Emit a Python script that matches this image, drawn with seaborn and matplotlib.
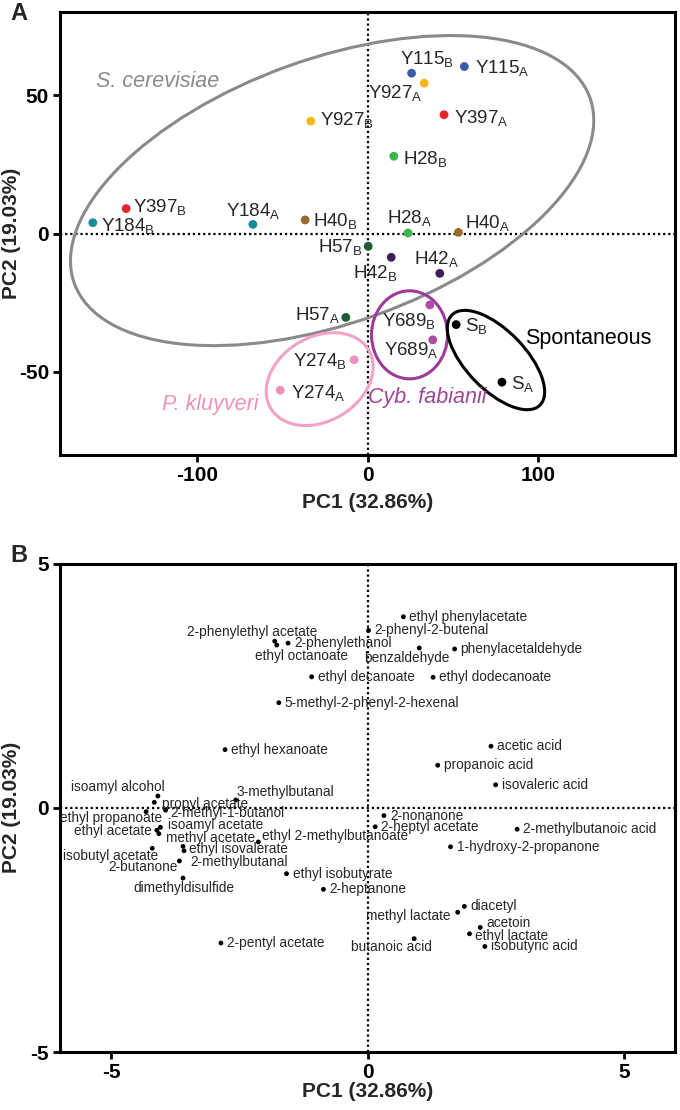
import numpy as np
import pandas as pd
import seaborn as sns
import matplotlib.pyplot as plt
from matplotlib.patches import Ellipse
from matplotlib.transforms import Affine2D

sns.set_style('white')
plt.rcParams['font.family'] = ['Liberation Sans', 'DejaVu Sans']
plt.rcParams['mathtext.fontset'] = 'custom'
plt.rcParams['mathtext.rm'] = 'Liberation Sans'
plt.rcParams['axes.unicode_minus'] = False

# ---- Panel A data: sample scores ----
strains = ['Y115', 'Y115', 'Y927', 'Y397', 'Y927', 'H28', 'Y397', 'Y184', 'Y184', 'H40', 'H28',
           'H40', 'H57', 'H42', 'H42', 'H57', 'Y689', 'Y689', 'S', 'S', 'Y274', 'Y274']
replicates = ['B', 'A', 'A', 'A', 'B', 'B', 'B', 'B', 'A', 'B', 'A',
              'A', 'B', 'B', 'A', 'A', 'B', 'A', 'B', 'A', 'B', 'A']
pc1_scores = [25.8, 56.7, 33.2, 44.8, -33.2, 15.4, -141.3, -160.8, -67.1, -36.5, 23.7,
              53.2, 0.4, 13.9, 42.3, -12.7, 36.5, 38.2, 51.9, 78.7, -7.8, -51.1]
pc2_scores = [57.9, 60.3, 54.3, 42.9, 40.6, 27.9, 9.0, 3.9, 3.3, 4.9, 0.2,
              0.4, -4.6, -8.6, -14.4, -30.3, -25.8, -38.4, -32.9, -53.7, -45.6, -56.6]

strain_colors = {'Y115': '#3b5ba9', 'Y927': '#f7b719', 'Y397': '#e3262b', 'H28': '#3bb54a',
                 'Y184': '#178a9c', 'H40': '#9c6a2c', 'H57': '#1d5c34', 'H42': '#3f1d5a',
                 'Y689': '#b04ba8', 'Y274': '#ef8fbb', 'S': '#000000'}

# ---- Panel B data: compound loadings ----
compounds = ['ethyl phenylacetate', '2-phenyl-2-butenal', '2-phenylethyl acetate', 'ethyl octanoate',
             '2-phenylethanol', 'benzaldehyde', 'phenylacetaldehyde', 'ethyl decanoate',
             'ethyl dodecanoate', '5-methyl-2-phenyl-2-hexenal', 'ethyl hexanoate', 'acetic acid',
             'propanoic acid', 'isovaleric acid', 'isoamyl alcohol', 'propyl acetate', '3-methylbutanal',
             'ethyl propanoate', '2-methyl-1-butanol', 'isoamyl acetate', 'ethyl acetate',
             'methyl acetate', 'ethyl 2-methylbutanoate', 'ethyl isovalerate', '2-methylbutanal',
             '2-butanone', 'isobutyl acetate', 'dimethyldisulfide', 'ethyl isobutyrate', '2-heptanone',
             '2-pentyl acetate', '2-nonanone', '2-heptyl acetate', '2-methylbutanoic acid',
             '1-hydroxy-2-propanone', 'diacetyl', 'methyl lactate', 'acetoin', 'ethyl lactate',
             'isobutyric acid', 'butanoic acid']
pc1_loadings = [0.70, 0.02, -1.81, -1.77, -1.55, 1.01, 1.70, -1.09, 1.28, -1.73, -2.78, 2.41,
                1.37, 2.50, -4.09, -4.16, -2.57, -4.32, -3.94, -4.04, -4.11, -4.07, -2.13, -3.60,
                -3.58, -3.67, -4.20, -3.60, -1.58, -0.86, -2.86, 0.32, 0.15, 2.92, 1.62, 1.89,
                1.76, 2.20, 1.99, 2.29, 0.91]
pc2_loadings = [3.91, 3.63, 3.41, 3.33, 3.37, 3.27, 3.25, 2.68, 2.67, 2.15, 1.19, 1.26,
                0.87, 0.47, 0.24, 0.11, 0.16, -0.08, -0.05, -0.40, -0.46, -0.53, -0.70, -0.79,
                -0.88, -1.09, -0.83, -1.44, -1.35, -1.67, -2.77, -0.16, -0.39, -0.44, -0.80, -2.02,
                -2.14, -2.45, -2.58, -2.84, -2.68]

df_a = pd.DataFrame({'strain': strains, 'rep': replicates, 'PC1': pc1_scores, 'PC2': pc2_scores})
df_b = pd.DataFrame({'compound': compounds, 'PC1': pc1_loadings, 'PC2': pc2_loadings})

# label placement for panel A: (dx px, dy px, ha)
label_pos_a = {
    ('Y115', 'B'): (15, 15, 'center'), ('Y115', 'A'): (11, 0, 'left'),
    ('Y927', 'A'): (-2, -9, 'right'), ('Y397', 'A'): (10, -2, 'left'),
    ('Y927', 'B'): (9, 2, 'left'), ('H28', 'B'): (9, -1, 'left'),
    ('Y397', 'B'): (7, 3, 'left'), ('Y184', 'B'): (8, -2, 'left'),
    ('Y184', 'A'): (0, 15, 'center'), ('H40', 'B'): (8, 0, 'left'),
    ('H28', 'A'): (2, 16, 'center'), ('H40', 'A'): (7, 11, 'left'),
    ('H57', 'B'): (-6, 1, 'right'), ('H42', 'B'): (-16, -14, 'center'),
    ('H42', 'A'): (-3, 16, 'center'), ('H57', 'A'): (-6, 4, 'right'),
    ('Y689', 'B'): (6, -15, 'right'), ('Y689', 'A'): (6, -9, 'right'),
    ('S', 'B'): (9, 0, 'left'), ('S', 'A'): (9, -1, 'left'),
    ('Y274', 'B'): (-7, 0, 'right'), ('Y274', 'A'): (11, -1, 'left'),
}

# label placement for panel B (default: right of point)
label_pos_b = {
    '2-phenylethyl acetate': (43, 9, 'right'), 'ethyl octanoate': (25, -11, 'center'),
    'benzaldehyde': (-12, -10, 'center'), 'isoamyl alcohol': (7, 9, 'right'),
    '3-methylbutanal': (1, 8, 'left'), 'propyl acetate': (8, -2, 'left'),
    'ethyl propanoate': (16, -6, 'right'), '2-methyl-1-butanol': (5, -3, 'left'),
    'isoamyl acetate': (8, 2, 'left'), 'ethyl acetate': (-5, -1, 'right'),
    'methyl acetate': (7, -4, 'left'), 'ethyl 2-methylbutanoate': (4, 6, 'left'),
    'ethyl isovalerate': (6, -3, 'left'), '2-methylbutanal': (6, -11, 'left'),
    'isobutyl acetate': (6, -8, 'right'), '2-butanone': (-2, -6, 'right'),
    'dimethyldisulfide': (1, -10, 'center'), 'methyl lactate': (-7, -4, 'right'),
    'acetoin': (6, 4, 'left'), 'ethyl lactate': (6, -2, 'left'),
    'butanoic acid': (-23, -8, 'center'),
}

# group outlines: center (data), semi-axes in pixels, angle in screen space
groups = [
    ('S. cerevisiae', (-20.7, 15.5), 274, 132, 19.8, '#8a8a8a', (-159, 55)),
    ('P. kluyveri', (-28.0, -52.6), 57, 42, 30.8, '#f0a3c6', (-120, -61.8)),
    ('Cyb. fabianii', (24.6, -36.6), 38, 44, 0, '#9e3b98', (0.5, -59.2)),
    ('Spontaneous', (75.2, -45.7), 63, 29.5, -45.9, '#000000', (92, -37.9)),
]
group_text_colors = {'S. cerevisiae': '#8a8a8a', 'P. kluyveri': '#ee91bd',
                     'Cyb. fabianii': '#a0449b', 'Spontaneous': '#000000'}

fig = plt.figure(figsize=(6.8, 11.1), dpi=100)
ax_a = fig.add_axes([60 / 680, 1 - 455 / 1110, 615 / 680, 443 / 1110])
ax_b = fig.add_axes([60 / 680, 1 - 1052 / 1110, 615 / 680, 488.5 / 1110])


def style_axes(ax, xt, yt):
    for s in ax.spines.values():
        s.set_linewidth(2.2)
        s.set_color('black')
    ax.set_xticks(xt)
    ax.set_yticks(yt)
    ax.tick_params(direction='out', length=5, width=2, pad=3, labelsize=15,
                   bottom=True, left=True, colors='black')
    plt.setp(ax.get_xticklabels(), fontweight='bold')
    plt.setp(ax.get_yticklabels(), fontweight='bold')
    ax.axhline(0, color='black', lw=1.6, ls=(0, (1, 1.3)), zorder=0)
    ax.axvline(0, color='black', lw=1.6, ls=(0, (1, 1.3)), zorder=0)
    ax.grid(False)


# ---- Panel A ----
ax_a.set_xlim(-180, 180)
ax_a.set_ylim(-80, 80)
sns.scatterplot(data=df_a, x='PC1', y='PC2', hue='strain', palette=strain_colors,
                s=40, edgecolor='none', legend=False, ax=ax_a, zorder=3)
style_axes(ax_a, [-100, 0, 100], [-50, 0, 50])

sx = ax_a.bbox.width / 360
sy = ax_a.bbox.height / 160
for name, (cx, cy), a, b, ang, col, (tx, ty) in groups:
    e = Ellipse((0, 0), 2 * a, 2 * b, angle=ang, fill=False, edgecolor=col, lw=2.2,
                transform=Affine2D().scale(1 / sx, 1 / sy).translate(cx, cy) + ax_a.transData)
    ax_a.add_patch(e)
    ax_a.text(tx, ty, name, color=group_text_colors[name], fontsize=15.5, va='center', ha='left',
              style='normal' if name == 'Spontaneous' else 'italic')

for _, r in df_a.iterrows():
    dx, dy, ha = label_pos_a[(r['strain'], r['rep'])]
    ax_a.annotate(r['strain'] + r'$_{\mathregular{' + r['rep'] + '}}$', (r['PC1'], r['PC2']),
                  xytext=(dx, dy - 7), textcoords='offset pixels', ha=ha, va='baseline',
                  fontsize=13.5)

ax_a.set_xlabel('PC1 (32.86%)', fontsize=15, fontweight='bold')
ax_a.set_ylabel('PC2 (19.03%)', fontsize=15, fontweight='bold')
ax_a.xaxis.set_label_coords(0.5, -0.086)
ax_a.yaxis.set_label_coords(-0.064, 0.5)

# ---- Panel B ----
ax_b.set_xlim(-6, 6)
ax_b.set_ylim(-5, 5)
sns.scatterplot(data=df_b, x='PC1', y='PC2', color='black', s=12, edgecolor='none',
                legend=False, ax=ax_b, zorder=3)
style_axes(ax_b, [-5, 0, 5], [-5, 0, 5])

for _, r in df_b.iterrows():
    dx, dy, ha = label_pos_b.get(r['compound'], (6, 0, 'left'))
    ax_b.annotate(r['compound'], (r['PC1'], r['PC2']), xytext=(dx, dy),
                  textcoords='offset pixels', ha=ha, va='center', fontsize=9.8)

ax_b.set_xlabel('PC1 (32.86%)', fontsize=15, fontweight='bold')
ax_b.set_ylabel('PC2 (19.03%)', fontsize=15, fontweight='bold')
ax_b.xaxis.set_label_coords(0.5, -0.062)
ax_b.yaxis.set_label_coords(-0.064, 0.5)

fig.text(10 / 680, 1 - 14 / 1110, 'A', fontsize=17, fontweight='bold', va='center', ha='left')
fig.text(10 / 680, 1 - 555 / 1110, 'B', fontsize=17, fontweight='bold', va='center', ha='left')

fig.savefig('out.png', dpi=100)
